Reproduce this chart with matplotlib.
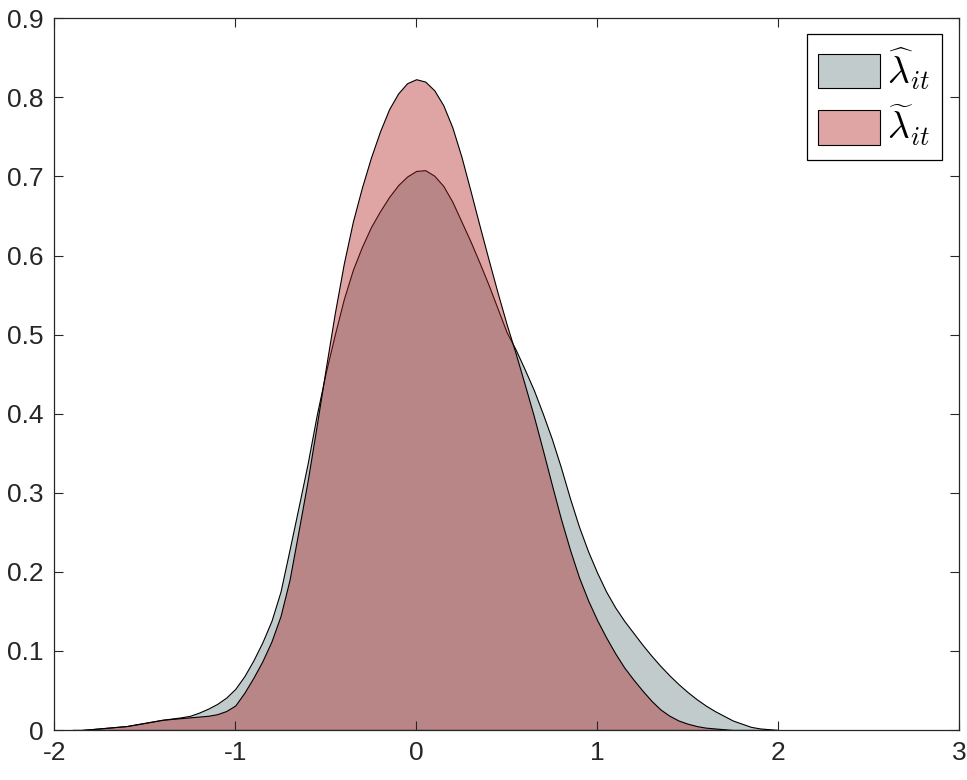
import numpy as np
import matplotlib
matplotlib.use("Agg")
import matplotlib.pyplot as plt
from matplotlib.patches import Patch

# x grid (step 0.05)
x = np.round(np.arange(-1.9, 2.001, 0.05), 2)

# density of lambda-hat (grey)
hat_vals = [0.000, 0.000, 0.001, 0.002, 0.003, 0.004, 0.005, 0.007, 0.009, 0.011,
            0.013, 0.0145, 0.016, 0.018, 0.022, 0.027, 0.033, 0.041, 0.052, 0.068,
            0.088, 0.111, 0.138, 0.175, 0.228, 0.282, 0.337, 0.398, 0.452, 0.500,
            0.545, 0.582, 0.611, 0.636, 0.656, 0.674, 0.689, 0.700, 0.707, 0.708,
            0.701, 0.688, 0.668, 0.643, 0.618, 0.591, 0.563, 0.533, 0.503, 0.481,
            0.456, 0.430, 0.400, 0.368, 0.332, 0.293, 0.257, 0.226, 0.199, 0.175,
            0.155, 0.138, 0.123, 0.108, 0.094, 0.081, 0.069, 0.058, 0.048, 0.039,
            0.031, 0.024, 0.018, 0.012, 0.008, 0.004, 0.002, 0.001, 0.000]

# density of lambda-tilde (red)
tilde_vals = [0.000, 0.000, 0.001, 0.002, 0.003, 0.004, 0.005, 0.007, 0.009, 0.011,
              0.013, 0.014, 0.015, 0.016, 0.017, 0.018, 0.020, 0.024, 0.031, 0.047,
              0.066, 0.087, 0.112, 0.144, 0.190, 0.252, 0.315, 0.385, 0.457, 0.527,
              0.590, 0.643, 0.686, 0.724, 0.757, 0.785, 0.805, 0.818, 0.823, 0.820,
              0.809, 0.790, 0.762, 0.725, 0.682, 0.638, 0.595, 0.553, 0.513, 0.476,
              0.437, 0.397, 0.354, 0.310, 0.267, 0.228, 0.193, 0.164, 0.139, 0.117,
              0.097, 0.079, 0.064, 0.050, 0.037, 0.026, 0.018, 0.012, 0.008, 0.005,
              0.003, 0.002, 0.001, 0.000, 0.000, 0.000, 0.000, 0.000, 0.000]

labels = [r'$\widehat{\lambda}_{it}$', r'$\widetilde{\lambda}_{it}$']

xticks = [-2, -1, 0, 1, 2, 3]
yticks = [0, 0.1, 0.2, 0.3, 0.4, 0.5, 0.6, 0.7, 0.8, 0.9]

plt.rcParams['font.family'] = ['Liberation Sans', 'DejaVu Sans']
plt.rcParams['mathtext.fontset'] = 'cm'

alpha = 0.4
grey = (100/255, 125/255, 128/255)
red = (175/255, 32/255, 32/255)
axcol = '#262626'

fig = plt.figure(figsize=(9.67, 7.8), dpi=100)
ax = fig.add_axes([0.0562, 0.0641, 0.9355, 0.9124])

ax.fill_between(x, 0, hat_vals, facecolor=grey + (alpha,), edgecolor='k', linewidth=0.8)
ax.fill_between(x, 0, tilde_vals, facecolor=red + (alpha,), edgecolor='k', linewidth=0.8)

ax.set_xlim(-2, 3)
ax.set_ylim(0, 0.9)
ax.set_xticks(xticks)
ax.set_xticklabels([str(t) for t in xticks])
ax.set_yticks(yticks)
ax.set_yticklabels(['0'] + ['%.1f' % t for t in yticks[1:]])

ax.tick_params(direction='in', length=6.5, width=0.8, top=True, right=True,
               labelsize=19, colors=axcol, pad=8)
for s in ax.spines.values():
    s.set_color(axcol)
    s.set_linewidth(0.9)

handles = [Patch(facecolor=grey + (alpha,), edgecolor='k', linewidth=0.8),
           Patch(facecolor=red + (alpha,), edgecolor='k', linewidth=0.8)]
leg = ax.legend(handles, labels, loc='upper right', bbox_to_anchor=(0.981, 0.9775),
                borderaxespad=0, fontsize=27, fancybox=False, framealpha=1,
                edgecolor='k', handlelength=1.65, handleheight=1.05,
                handletextpad=0.2, labelspacing=0.3, borderpad=0.3)
leg.get_frame().set_linewidth(0.9)

fig.savefig('out.png', dpi=100)
